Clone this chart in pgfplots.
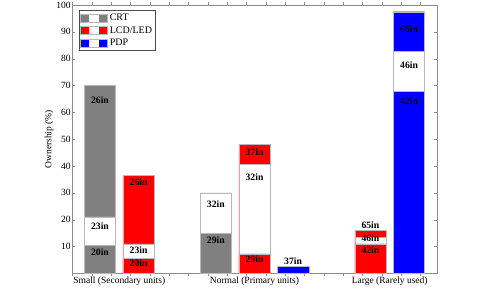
\documentclass[border=0pt]{standalone}
\usepackage{pgfplots}
\pgfplotsset{compat=1.18}
\usepackage{fontspec}
\setmainfont{Liberation Serif}
\definecolor{crt}{RGB}{128,128,128}
\definecolor{axgray}{RGB}{140,140,140}
\definecolor{edge}{RGB}{185,185,185}
\begin{document}
\begin{tikzpicture}[x=1bp,y=1bp]
\path[use as bounding box] (0,0) rectangle (479,290);
\begin{axis}[
  at={(72.3bp,16.7bp)}, anchor=south west,
  scale only axis, width=364.4bp, height=268.3bp,
  font=\fontsize{9.5bp}{11bp}\selectfont,
  /pgf/number format/assume math mode=true,
  xmin=0.284, xmax=9.716, ymin=0, ymax=100,
  ytick={10,20,...,100},
  xtick={0.29,0.79,...,9.6}, xticklabels={},
  extra x ticks={1.5,5,8.5},
  extra x tick labels={Small (Secondary units),Normal (Primary units),Large (Rarely used)},
  extra x tick style={major tick length=0pt},
  major tick length=3bp,
  axis line style={axgray}, tick style={axgray},
  yticklabel style={inner sep=1.5bp},
  ylabel={Ownership (\%)},
  ylabel style={yshift=-2bp},
  ybar, bar shift=0pt, bar width=0.81,
  legend style={at={(0.0176,0.980)}, anchor=north west, draw=black!70,
    font=\fontsize{10bp}{12bp}\selectfont, inner xsep=1.5bp, inner ysep=1.5bp, row sep=0.3bp},
  legend cell align=left,
]
\addlegendimage{legend image code/.code={\fill[crt] (0bp,-4bp) rectangle (27bp,4bp); \fill[white] (9bp,-4bp) rectangle (18bp,4bp); \draw[edge] (0bp,-4bp) rectangle (27bp,4bp);}}
\addlegendentry{CRT}
\addlegendimage{legend image code/.code={\fill[red] (0bp,-4bp) rectangle (27bp,4bp); \fill[white] (9bp,-4bp) rectangle (18bp,4bp); \draw[edge] (0bp,-4bp) rectangle (27bp,4bp);}}
\addlegendentry{LCD/LED}
\addlegendimage{legend image code/.code={\fill[blue] (0bp,-4bp) rectangle (27bp,4bp); \fill[white] (9bp,-4bp) rectangle (18bp,4bp); \draw[edge] (0bp,-4bp) rectangle (27bp,4bp);}}
\addlegendentry{PDP}
% CRT
\addplot[fill=crt, draw=edge, forget plot] coordinates {(1,70) (4,30)};
\addplot[fill=white, draw=edge, forget plot] coordinates {(1,21) (4,30)};
\addplot[fill=crt, draw=edge, forget plot] coordinates {(1,10.5) (4,15)};
% LCD/LED
\addplot[fill=red, draw=edge, forget plot] coordinates {(2,36.5) (5,48) (8,16)};
\addplot[fill=white, draw=edge, forget plot] coordinates {(2,11) (5,40.6) (8,13.4)};
\addplot[fill=red, draw=edge, forget plot] coordinates {(2,5.5) (5,7.2) (8,11)};
% PDP
\addplot[fill=blue, draw=edge, forget plot] coordinates {(6,2.5) (9,97.5)};
\addplot[fill=white, draw=edge, forget plot] coordinates {(9,82.6)};
\addplot[fill=blue, draw=edge, forget plot] coordinates {(9,68)};
% labels
\begin{scope}[every node/.style={font=\fontsize{9.7bp}{11bp}\selectfont\bfseries}]
\node at (axis cs:1,64.6) {26in};
\node at (axis cs:1,17.6) {23in};
\node at (axis cs:1,8.0) {20in};
\node at (axis cs:2,34.1) {26in};
\node at (axis cs:2,8.8) {23in};
\node at (axis cs:2,3.8) {20in};
\node at (axis cs:4,25.7) {32in};
\node at (axis cs:4,12.3) {29in};
\node at (axis cs:5,45) {37in};
\node at (axis cs:5,36) {32in};
\node at (axis cs:5,5.3) {29in};
\node at (axis cs:6,4.7) {37in};
\node at (axis cs:8,18) {65in};
\node at (axis cs:8,13.2) {46in};
\node at (axis cs:8,8.7) {42in};
\node at (axis cs:9,90.9) {65in};
\node at (axis cs:9,77.5) {46in};
\node at (axis cs:9,64.3) {42in};
\end{scope}
\end{axis}
\end{tikzpicture}
\end{document}
